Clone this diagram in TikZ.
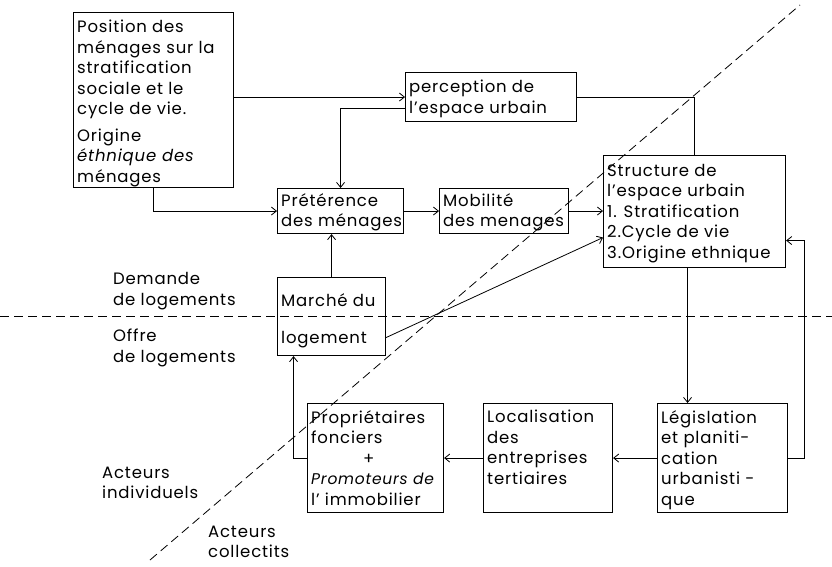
\documentclass[tikz,border=0pt]{standalone}
\usepackage{fontspec}
\setmainfont{Poppins}[LetterSpace=5]
\usetikzlibrary{arrows.meta,calc}
\begin{document}
\begin{tikzpicture}[x=1pt,y=-1pt,
 box/.style={draw,line width=1.1pt,inner sep=0pt,anchor=north west},
 txt/.style={anchor=north west,align=left,inner xsep=4pt,inner ysep=7pt,font=\fontsize{16.5}{20.5}\selectfont},
 lbl/.style={anchor=west,align=left,inner sep=0pt,font=\fontsize{16.5}{20.5}\selectfont},
 arr/.style={line width=0.8pt,-{Straight Barb[length=5pt,width=8pt]}},
 con/.style={line width=0.8pt},
 sep/.style={line width=0.8pt,dash pattern=on 9pt off 5pt}]
\useasboundingbox (0,0) rectangle (832,567);
% boxes
\node[box,minimum width=160pt,minimum height=175pt] (pos) at (73,12) {};
\node[box,minimum width=171pt,minimum height=49pt] (perc) at (405,72) {};
\node[box,minimum width=126pt,minimum height=45pt] (pref) at (277,188) {};
\node[box,minimum width=129pt,minimum height=45pt] (mob) at (439,188) {};
\node[box,minimum width=182pt,minimum height=112pt] (struct) at (603,155) {};
\node[box,minimum width=108pt,minimum height=78pt] (marche) at (277,277) {};
\node[box,minimum width=136pt,minimum height=109pt] (prop) at (307,403) {};
\node[box,minimum width=129pt,minimum height=109pt] (loc) at (483,403) {};
\node[box,minimum width=130pt,minimum height=109pt] (leg) at (657,403) {};
% texts
\node[txt,inner ysep=8pt] (pos-t) at (pos.north west) {Position des\\ménages sur la\\stratification\\sociale et le\\cycle de vie.\\[6pt]Origine\\\textit{éthnique des}\\ménages};
\node[txt,inner ysep=8pt] (perc-t) at (perc.north west) {perception de\\l'espace urbain};
\node[txt,inner ysep=5pt] (pref-t) at (pref.north west) {Prétérence\\des ménages};
\node[txt,inner ysep=5pt] (mob-t) at (mob.north west) {Mobilité\\des menages};
\node[txt,inner ysep=9pt] (struct-t) at (struct.north west) {Structure de\\l'espace urbain\\1. Stratification\\2.Cycle de vie\\3.Origine ethnique};
\node[txt,inner ysep=16pt] (marche-t) at (marche.north west) {Marché du\\[17pt]logement};
\node[txt] (prop-t) at (prop.north west) {Propriétaires\\fonciers\\\hspace*{52pt}+\\{\fontsize{15.5}{20.5}\selectfont\textit{Promoteurs de}}\\l' immobilier};
\node[txt] (loc-t) at (loc.north west) {Localisation\\des\\entreprises\\tertiaires};
\node[txt] (leg-t) at (leg.north west) {Législation\\et planiti-\\cation\\urbanisti -\\que};
% labels
\node[lbl] (dem) at (113,291) {Demande\\de logements};
\node[lbl] (off) at (113,348) {Offre\\de logements};
\node[lbl] (ind) at (102,483) {Acteurs\\individuels};
\node[lbl] (col) at (208,542) {Acteurs\\collectits};
% dashed separators
\coordinate (hl) at (0,316);
\coordinate (hr) at (832,316);
\coordinate (dA) at (150,560);
\coordinate (dB) at (800,5);
\draw[sep] (hl) -- (hr);
\draw[sep] (dA) -- (dB);
% connectors
\draw[arr] (perc.west -| pos.east) -- (perc.west);
\draw[arr] ([yshift=-11pt]perc.west) -| (pref.north);
\draw[arr] (pos.south) |- (pref.west);
\draw[arr] (pref.east) -- (mob.west);
\draw[arr] (mob.east) -- (mob.east -| struct.west);
\draw[con] (perc.east) -| (struct.north);
\draw[arr] ([yshift=-21pt]marche.east) -- ([yshift=-26pt]struct.west);
\draw[arr] (marche.north) -- (marche.north |- pref.south);
\draw[arr] ([xshift=-7pt]struct.south) -- ([xshift=-7pt]struct.south |- leg.north);
\draw[arr] (leg.east) -- ++(16,0) |- ([yshift=-29pt]struct.east);
\draw[arr] (leg.west) -- (loc.east);
\draw[arr] (loc.west) -- (prop.east);
\draw[arr] (prop.west) -| ([xshift=-38pt]marche.south);
\end{tikzpicture}
\end{document}
